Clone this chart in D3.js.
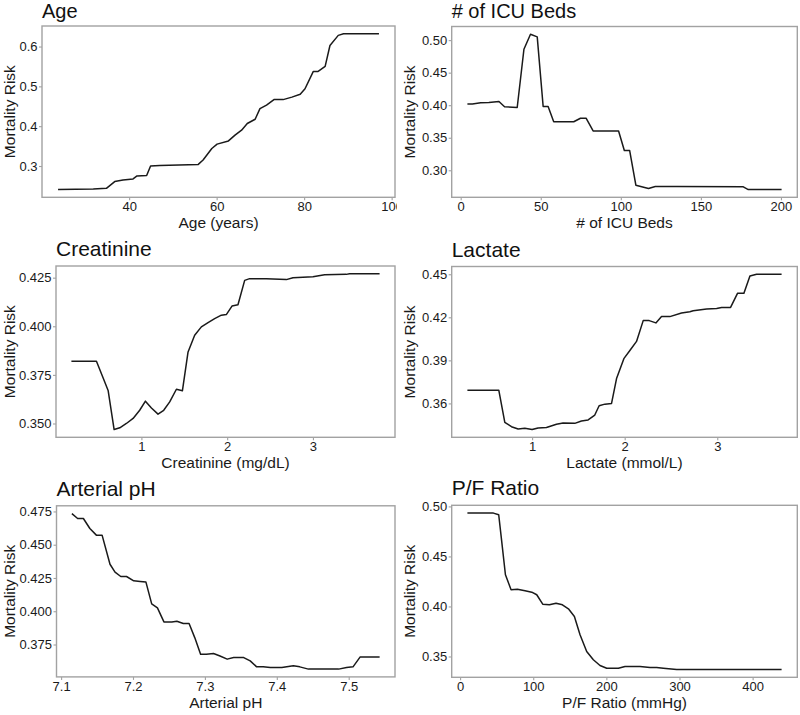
<!DOCTYPE html>
<html>
<head>
<meta charset="utf-8">
<script src="https://cdn.jsdelivr.net/npm/d3@7"></script>
<style>
  html, body { margin: 0; padding: 0; background: #fff; }
  svg { display: block; }
  text { font-family: "Liberation Sans", Arial, Helvetica, sans-serif; }
</style>
</head>
<body>
<svg id="chart" width="800" height="715"></svg>
<script>
// ---------------- data ----------------
const ageX = [23.75, 31.8, 34.8, 36.7, 38.6, 40.9, 41.8, 44.0, 44.9, 47.0, 55.8, 56.9, 58.9, 60.1, 62.7, 64.2, 65.7, 67.0, 68.8, 69.9, 71.4, 73.1, 75.2, 77.2, 79.1, 80.2, 82.1, 83.2, 84.8, 85.9, 87.8, 89.0, 97.1];
const ageY = [0.241, 0.242, 0.244, 0.261, 0.265, 0.2675, 0.275, 0.276, 0.300, 0.301, 0.304, 0.315, 0.344, 0.355, 0.363, 0.3775, 0.390, 0.4067, 0.4175, 0.444, 0.453, 0.4667, 0.4667, 0.473, 0.480, 0.494, 0.5375, 0.5375, 0.550, 0.6025, 0.628, 0.632, 0.632];

const icuX = [4.2, 7.3, 12.5, 17.6, 23.9, 27.4, 35.3, 39.5, 43.6, 47.8, 51.5, 54.6, 58.1, 70.6, 74.8, 78.3, 82.7, 98.6, 102.2, 105.5, 109.4, 117.3, 121.5, 135, 176.5, 179.6, 200.4];
const icuY = [0.402, 0.402, 0.4036, 0.404, 0.4056, 0.3975, 0.3965, 0.486, 0.509, 0.505, 0.398, 0.398, 0.3746, 0.3746, 0.380, 0.380, 0.3604, 0.3604, 0.3304, 0.3304, 0.277, 0.272, 0.275, 0.275, 0.2745, 0.2704, 0.2704];

const creatX = [0.184, 0.476, 0.553, 0.612, 0.682, 0.748, 0.825, 0.903, 0.98, 1.047, 1.117, 1.194, 1.26, 1.33, 1.408, 1.478, 1.544, 1.621, 1.699, 1.777, 1.854, 1.932, 1.99, 2.056, 2.126, 2.204, 2.262, 2.456, 2.69, 2.767, 3.0, 3.136, 3.388, 3.427, 3.777];
const creatY = [0.382, 0.382, 0.3735, 0.367, 0.3469, 0.3478, 0.350, 0.3526, 0.3568, 0.3615, 0.358, 0.3548, 0.3568, 0.3611, 0.3676, 0.3668, 0.3868, 0.3954, 0.3997, 0.4019, 0.4039, 0.4057, 0.406, 0.4104, 0.4111, 0.4236, 0.4245, 0.4245, 0.424, 0.425, 0.4255, 0.4265, 0.4267, 0.427, 0.427];

const lactX = [0.301, 0.640, 0.705, 0.777, 0.849, 0.921, 1.0, 1.065, 1.155, 1.263, 1.335, 1.461, 1.533, 1.605, 1.677, 1.724, 1.786, 1.858, 1.912, 1.991, 2.056, 2.128, 2.2, 2.265, 2.337, 2.398, 2.488, 2.614, 2.704, 2.74, 2.885, 2.993, 3.047, 3.144, 3.22, 3.288, 3.353, 3.425, 3.695];
const lactY = [0.3692, 0.3692, 0.3468, 0.3438, 0.3422, 0.3427, 0.3418, 0.3429, 0.3432, 0.3455, 0.3464, 0.3461, 0.3478, 0.3485, 0.3519, 0.3584, 0.3595, 0.360, 0.3773, 0.3912, 0.3969, 0.4032, 0.4177, 0.4177, 0.4161, 0.4205, 0.4205, 0.423, 0.4239, 0.4246, 0.4258, 0.4262, 0.4269, 0.4269, 0.4368, 0.4368, 0.4488, 0.450, 0.450];

const phX = [7.115, 7.123, 7.131, 7.140, 7.149, 7.157, 7.168, 7.175, 7.183, 7.191, 7.201, 7.210, 7.218, 7.226, 7.234, 7.243, 7.254, 7.261, 7.270, 7.278, 7.286, 7.294, 7.302, 7.312, 7.321, 7.331, 7.340, 7.354, 7.363, 7.372, 7.381, 7.391, 7.407, 7.423, 7.432, 7.444, 7.451, 7.486, 7.497, 7.506, 7.516, 7.543];
const phY = [0.4734, 0.4697, 0.4697, 0.4622, 0.4572, 0.4572, 0.4353, 0.4294, 0.4261, 0.4261, 0.4229, 0.4224, 0.4219, 0.4055, 0.4025, 0.392, 0.392, 0.3925, 0.3908, 0.3908, 0.380, 0.3677, 0.3677, 0.3682, 0.3664, 0.364, 0.3652, 0.3652, 0.3627, 0.3582, 0.3582, 0.3577, 0.3577, 0.359, 0.3582, 0.3565, 0.3565, 0.3565, 0.3577, 0.3582, 0.3657, 0.3657];

const pfX = [10.0, 45.6, 52.8, 56.9, 62.0, 69.7, 78.4, 88.8, 98.0, 104.8, 113.0, 122.1, 131.2, 139.9, 148.1, 156.3, 164.0, 173.1, 182.2, 191.3, 200.5, 216.4, 225.5, 246.0, 259.7, 268.8, 277.9, 296.1, 439.6];
const pfY = [0.4933, 0.4933, 0.4917, 0.465, 0.4317, 0.4167, 0.4173, 0.4157, 0.4143, 0.4117, 0.4023, 0.4017, 0.4033, 0.4017, 0.3977, 0.390, 0.3717, 0.355, 0.3467, 0.341, 0.3383, 0.3383, 0.340, 0.340, 0.339, 0.339, 0.3383, 0.337, 0.337];

// tick values
const ageXTicks = [40, 60, 80, 100];
const ageYTicks = [0.3, 0.4, 0.5, 0.6];
const icuXTicks = [0, 50, 100, 150, 200];
const icuYTicks = [0.30, 0.35, 0.40, 0.45, 0.50];
const creatXTicks = [1, 2, 3];
const creatYTicks = [0.350, 0.375, 0.400, 0.425];
const lactXTicks = [1, 2, 3];
const lactYTicks = [0.36, 0.39, 0.42, 0.45];
const phXTicks = [7.1, 7.2, 7.3, 7.4, 7.5];
const phYTicks = [0.375, 0.400, 0.425, 0.450, 0.475];
const pfXTicks = [0, 100, 200, 300, 400];
const pfYTicks = [0.35, 0.40, 0.45, 0.50];

const titles = ["Age", "# of ICU Beds", "Creatinine", "Lactate", "Arterial pH", "P/F Ratio"];
const xLabels = ["Age (years)", "# of ICU Beds", "Creatinine (mg/dL)", "Lactate (mmol/L)", "Arterial pH", "P/F Ratio (mmHg)"];
const yLabel = "Mortality Risk";

// ---------------- layout ----------------
const panels = [
  { x: ageX,   y: ageY,   xt: ageXTicks,   yt: ageYTicks,   xf: d3.format("d"),   yf: d3.format(".1f"), cell: [0, 0],     box: [42, 395, 26, 197.3] },
  { x: icuX,   y: icuY,   xt: icuXTicks,   yt: icuYTicks,   xf: d3.format("d"),   yf: d3.format(".2f"), cell: [400, 0],   box: [451.7, 797.3, 26.5, 197.3] },
  { x: creatX, y: creatY, xt: creatXTicks, yt: creatYTicks, xf: d3.format("d"),   yf: d3.format(".3f"), cell: [0, 235],   box: [56, 395, 266, 437.3] },
  { x: lactX,  y: lactY,  xt: lactXTicks,  yt: lactYTicks,  xf: d3.format("d"),   yf: d3.format(".2f"), cell: [400, 235], box: [451.7, 797.3, 266.5, 437.3] },
  { x: phX,    y: phY,    xt: phXTicks,    yt: phYTicks,    xf: d3.format(".1f"), yf: d3.format(".3f"), cell: [0, 475],   box: [56.5, 395, 505.8, 676.9] },
  { x: pfX,    y: pfY,    xt: pfXTicks,    yt: pfYTicks,    xf: d3.format("d"),   yf: d3.format(".2f"), cell: [400, 475], box: [451.7, 797.3, 505.3, 677.3] }
];

const svg = d3.select("#chart");
const borderCol = "#a2a2a2";
const textCol = "#1a1a1a";

function padded(ext) {
  const s = (ext[1] - ext[0]) * 0.05;
  return [ext[0] - s, ext[1] + s];
}

panels.forEach((p, i) => {
  const [cx, cy] = p.cell;
  const [x0, x1, y0, y1] = p.box;
  const clipId = "clip" + i;
  svg.append("clipPath").attr("id", clipId)
    .append("rect").attr("x", cx).attr("y", cy - 10)
    .attr("width", cx === 0 ? 397 : 400).attr("height", 250);

  const g = svg.append("g").attr("clip-path", `url(#${clipId})`);

  const xs = d3.scaleLinear().domain(padded(d3.extent(p.x))).range([x0, x1]);
  const ys = d3.scaleLinear().domain(padded(d3.extent(p.y))).range([y1, y0]);

  // x axis
  const xa = g.append("g").attr("transform", `translate(0,${y1})`)
    .call(d3.axisBottom(xs).tickValues(p.xt).tickFormat(p.xf).tickSize(3).tickPadding(1.8));
  // y axis
  const ya = g.append("g").attr("transform", `translate(${x0},0)`)
    .call(d3.axisLeft(ys).tickValues(p.yt).tickFormat(p.yf).tickSize(3).tickPadding(1.5));
  [xa, ya].forEach(a => {
    a.select(".domain").remove();
    a.selectAll(".tick line").attr("stroke", borderCol).attr("stroke-width", 1.1);
    a.selectAll(".tick text").attr("fill", textCol)
      .style("font-size", "13px")
      .style("font-family", '"Liberation Sans", Arial, Helvetica, sans-serif');
  });

  // line
  const pts = p.x.map((v, k) => [v, p.y[k]]);
  g.append("path").datum(pts)
    .attr("fill", "none")
    .attr("stroke", "#1a1a1a")
    .attr("stroke-width", 1.5)
    .attr("stroke-linejoin", "round")
    .attr("d", d3.line().x(d => xs(d[0])).y(d => ys(d[1])));

  // border
  g.append("rect")
    .attr("x", x0).attr("y", y0)
    .attr("width", x1 - x0).attr("height", y1 - y0)
    .attr("fill", "none").attr("stroke", borderCol).attr("stroke-width", 1.4);

  // title
  const topRow = cy === 0;
  g.append("text").attr("x", x0).attr("y", topRow ? 18.3 : y0 - 10)
    .attr("fill", "#111").style("font-size", topRow ? "20px" : "21px")
    .text(titles[i]);

  // x label
  g.append("text").attr("x", (x0 + x1) / 2).attr("y", y1 + 31)
    .attr("text-anchor", "middle").attr("fill", textCol).style("font-size", "15.5px")
    .text(xLabels[i]);

  // y label
  g.append("text")
    .attr("transform", `translate(${cx + 14.5},${(y0 + y1) / 2}) rotate(-90)`)
    .attr("text-anchor", "middle").attr("fill", textCol).style("font-size", "15.5px")
    .text(yLabel);
});
</script>
</body>
</html>
